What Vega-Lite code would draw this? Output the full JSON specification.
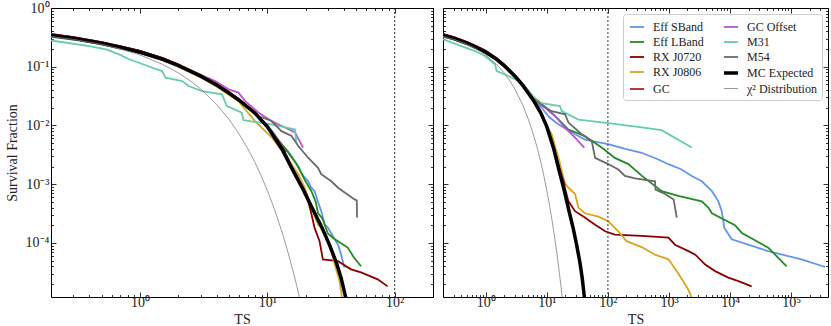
{
"$schema": "https://vega.github.io/schema/vega-lite/v6.json",
"padding": {"left": 4, "top": 0, "right": 4, "bottom": 0},
"config": {
  "font": "Liberation Serif",
  "view": {"stroke": "#000", "strokeWidth": 1},
  "axis": {"labelFont": "Liberation Serif", "labelFontSize": 14, "labelColor": "#222", "titleFont": "Liberation Serif", "titleFontSize": 14, "titleFontWeight": "normal", "titleColor": "#222", "tickColor": "#000", "tickWidth": 0.8, "grid": false, "labelOverlap": false, "labelFlush": false, "domain": false},
  "legend": {"labelFont": "Liberation Serif", "labelFontSize": 12, "labelColor": "#222", "titlePadding": 0},
  "concat": {"spacing": 8}
},
"datasets": {
 "C": [
  {"s":"MC Expected","t":0.2,"v":0.343},{"s":"MC Expected","t":0.3,"v":0.305},{"s":"MC Expected","t":0.5,"v":0.251},{"s":"MC Expected","t":0.7,"v":0.214},{"s":"MC Expected","t":1,"v":0.178},{"s":"MC Expected","t":1.5,"v":0.135},{"s":"MC Expected","t":2,"v":0.105},{"s":"MC Expected","t":3,"v":0.0692},{"s":"MC Expected","t":4,"v":0.049},{"s":"MC Expected","t":5,"v":0.0355},{"s":"MC Expected","t":6,"v":0.0269},{"s":"MC Expected","t":8,"v":0.0162},{"s":"MC Expected","t":10,"v":0.00955},{"s":"MC Expected","t":13,"v":0.00398},{"s":"MC Expected","t":16,"v":0.00166},{"s":"MC Expected","t":19,"v":0.000832},{"s":"MC Expected","t":23,"v":0.000355},{"s":"MC Expected","t":27,"v":0.000178},{"s":"MC Expected","t":31,"v":0.000089},{"s":"MC Expected","t":35,"v":0.000045},{"s":"MC Expected","t":38,"v":0.000025},{"s":"MC Expected","t":42,"v":0.00001},
  {"s":"χ² Distribution","t":0.2,"v":0.327},{"s":"χ² Distribution","t":0.3,"v":0.292},{"s":"χ² Distribution","t":0.5,"v":0.24},{"s":"χ² Distribution","t":0.7,"v":0.201},{"s":"χ² Distribution","t":1,"v":0.159},{"s":"χ² Distribution","t":1.5,"v":0.11},{"s":"χ² Distribution","t":2,"v":0.0787},{"s":"χ² Distribution","t":2.5,"v":0.0569},{"s":"χ² Distribution","t":3,"v":0.0416},{"s":"χ² Distribution","t":4,"v":0.0228},{"s":"χ² Distribution","t":5,"v":0.0127},{"s":"χ² Distribution","t":6,"v":0.00715},{"s":"χ² Distribution","t":7,"v":0.00408},{"s":"χ² Distribution","t":8,"v":0.00234},{"s":"χ² Distribution","t":9,"v":0.00135},{"s":"χ² Distribution","t":10,"v":0.000783},{"s":"χ² Distribution","t":11,"v":0.000456},{"s":"χ² Distribution","t":12,"v":0.000266},{"s":"χ² Distribution","t":13,"v":0.000156},{"s":"χ² Distribution","t":14,"v":0.0000915},{"s":"χ² Distribution","t":15,"v":0.0000538},{"s":"χ² Distribution","t":16,"v":0.0000317},{"s":"χ² Distribution","t":17,"v":0.0000187},{"s":"χ² Distribution","t":18,"v":0.000011}
 ],
 "L": [
  {"s":"Eff SBand","t":0.2,"v":0.327},{"s":"Eff SBand","t":0.3,"v":0.291},{"s":"Eff SBand","t":0.5,"v":0.24},{"s":"Eff SBand","t":0.7,"v":0.204},{"s":"Eff SBand","t":1,"v":0.17},{"s":"Eff SBand","t":1.5,"v":0.129},{"s":"Eff SBand","t":2,"v":0.1},{"s":"Eff SBand","t":3,"v":0.0661},{"s":"Eff SBand","t":4,"v":0.0468},{"s":"Eff SBand","t":5,"v":0.0345},{"s":"Eff SBand","t":6,"v":0.0265},{"s":"Eff SBand","t":7,"v":0.021},{"s":"Eff SBand","t":8,"v":0.0165},{"s":"Eff SBand","t":9,"v":0.0126},{"s":"Eff SBand","t":11,"v":0.0079},{"s":"Eff SBand","t":13,"v":0.0047},{"s":"Eff SBand","t":16.4,"v":0.00245},{"s":"Eff SBand","t":19,"v":0.00141},{"s":"Eff SBand","t":20.9,"v":0.00112},{"s":"Eff SBand","t":22,"v":0.00089},{"s":"Eff SBand","t":23.5,"v":0.00076},{"s":"Eff SBand","t":25,"v":0.0005},{"s":"Eff SBand","t":26.5,"v":0.000347},{"s":"Eff SBand","t":28.3,"v":0.000204},{"s":"Eff SBand","t":29.9,"v":0.000182},{"s":"Eff SBand","t":33,"v":0.000126},{"s":"Eff SBand","t":35.9,"v":0.0000933},{"s":"Eff SBand","t":38,"v":0.000063},{"s":"Eff SBand","t":40.3,"v":0.000038},
  {"s":"Eff LBand","t":0.2,"v":0.335},{"s":"Eff LBand","t":0.3,"v":0.298},{"s":"Eff LBand","t":0.5,"v":0.246},{"s":"Eff LBand","t":0.7,"v":0.209},{"s":"Eff LBand","t":1,"v":0.174},{"s":"Eff LBand","t":1.5,"v":0.132},{"s":"Eff LBand","t":2,"v":0.103},{"s":"Eff LBand","t":3,"v":0.068},{"s":"Eff LBand","t":4,"v":0.048},{"s":"Eff LBand","t":5,"v":0.035},{"s":"Eff LBand","t":6,"v":0.027},{"s":"Eff LBand","t":7,"v":0.0212},{"s":"Eff LBand","t":8,"v":0.0162},{"s":"Eff LBand","t":9,"v":0.0117},{"s":"Eff LBand","t":10,"v":0.0093},{"s":"Eff LBand","t":12.2,"v":0.0056},{"s":"Eff LBand","t":14.6,"v":0.00355},{"s":"Eff LBand","t":17.5,"v":0.002},{"s":"Eff LBand","t":19.7,"v":0.00117},{"s":"Eff LBand","t":22.2,"v":0.00076},{"s":"Eff LBand","t":24,"v":0.0005},{"s":"Eff LBand","t":25,"v":0.00032},{"s":"Eff LBand","t":27,"v":0.000263},{"s":"Eff LBand","t":29.9,"v":0.000145},{"s":"Eff LBand","t":33,"v":0.00012},{"s":"Eff LBand","t":42.8,"v":0.0000832},{"s":"Eff LBand","t":48,"v":0.000056},{"s":"Eff LBand","t":54.4,"v":0.00004},
  {"s":"RX J0720","t":0.2,"v":0.359},{"s":"RX J0720","t":0.3,"v":0.319},{"s":"RX J0720","t":0.5,"v":0.263},{"s":"RX J0720","t":0.7,"v":0.224},{"s":"RX J0720","t":1,"v":0.186},{"s":"RX J0720","t":1.5,"v":0.141},{"s":"RX J0720","t":2,"v":0.11},{"s":"RX J0720","t":3,"v":0.0724},{"s":"RX J0720","t":4,"v":0.0513},{"s":"RX J0720","t":5,"v":0.0372},{"s":"RX J0720","t":6,"v":0.0275},{"s":"RX J0720","t":8,"v":0.0165},{"s":"RX J0720","t":10,"v":0.0092},{"s":"RX J0720","t":14,"v":0.0032},{"s":"RX J0720","t":18,"v":0.00112},{"s":"RX J0720","t":21,"v":0.0005},{"s":"RX J0720","t":22.2,"v":0.00031},{"s":"RX J0720","t":23.5,"v":0.00018},{"s":"RX J0720","t":25.7,"v":0.000107},{"s":"RX J0720","t":27.3,"v":0.0000525},{"s":"RX J0720","t":35.9,"v":0.000049},{"s":"RX J0720","t":45.4,"v":0.0000355},{"s":"RX J0720","t":54.4,"v":0.0000316},{"s":"RX J0720","t":73.6,"v":0.000024},{"s":"RX J0720","t":88,"v":0.0000182},
  {"s":"RX J0806","t":0.2,"v":0.335},{"s":"RX J0806","t":0.3,"v":0.298},{"s":"RX J0806","t":0.5,"v":0.245},{"s":"RX J0806","t":0.7,"v":0.207},{"s":"RX J0806","t":1,"v":0.172},{"s":"RX J0806","t":1.5,"v":0.13},{"s":"RX J0806","t":2,"v":0.1},{"s":"RX J0806","t":3,"v":0.066},{"s":"RX J0806","t":4,"v":0.046},{"s":"RX J0806","t":5,"v":0.033},{"s":"RX J0806","t":5.93,"v":0.026},{"s":"RX J0806","t":8,"v":0.0119},{"s":"RX J0806","t":10.8,"v":0.0063},{"s":"RX J0806","t":13.7,"v":0.00324},{"s":"RX J0806","t":17.5,"v":0.00148},{"s":"RX J0806","t":19.7,"v":0.00087},{"s":"RX J0806","t":22.2,"v":0.0004},{"s":"RX J0806","t":25,"v":0.000204},{"s":"RX J0806","t":26,"v":0.00019},{"s":"RX J0806","t":27.3,"v":0.00017},{"s":"RX J0806","t":29,"v":0.000123},{"s":"RX J0806","t":31.8,"v":0.0000724},{"s":"RX J0806","t":33.8,"v":0.0000427},{"s":"RX J0806","t":36.9,"v":0.0000224},{"s":"RX J0806","t":39,"v":0.00001},
  {"s":"GC","t":0.2,"v":0.362},{"s":"GC","t":0.3,"v":0.32},{"s":"GC","t":0.5,"v":0.262},{"s":"GC","t":0.7,"v":0.223},{"s":"GC","t":1,"v":0.186},{"s":"GC","t":1.5,"v":0.14},{"s":"GC","t":2,"v":0.109},{"s":"GC","t":3,"v":0.072},{"s":"GC","t":4,"v":0.051},{"s":"GC","t":5,"v":0.037},{"s":"GC","t":6,"v":0.028},{"s":"GC","t":8,"v":0.0165},{"s":"GC","t":10,"v":0.0098},{"s":"GC","t":12,"v":0.0058},{"s":"GC","t":14,"v":0.0035},
  {"s":"GC Offset","t":0.2,"v":0.33},{"s":"GC Offset","t":0.3,"v":0.295},{"s":"GC Offset","t":0.5,"v":0.245},{"s":"GC Offset","t":0.7,"v":0.21},{"s":"GC Offset","t":1,"v":0.176},{"s":"GC Offset","t":1.5,"v":0.136},{"s":"GC Offset","t":2,"v":0.107},{"s":"GC Offset","t":3,"v":0.0725},{"s":"GC Offset","t":3.9,"v":0.057},{"s":"GC Offset","t":4.96,"v":0.0412},{"s":"GC Offset","t":5.93,"v":0.0363},{"s":"GC Offset","t":6.7,"v":0.026},{"s":"GC Offset","t":8.5,"v":0.0166},{"s":"GC Offset","t":10.8,"v":0.0119},{"s":"GC Offset","t":13,"v":0.0098},{"s":"GC Offset","t":16.5,"v":0.0076},{"s":"GC Offset","t":19.1,"v":0.0042},
  {"s":"M31","t":0.2,"v":0.28},{"s":"M31","t":0.4,"v":0.225},{"s":"M31","t":0.54,"v":0.198},{"s":"M31","t":0.686,"v":0.162},{"s":"M31","t":0.82,"v":0.134},{"s":"M31","t":0.98,"v":0.117},{"s":"M31","t":1.25,"v":0.096},{"s":"M31","t":1.49,"v":0.0845},{"s":"M31","t":1.59,"v":0.065},{"s":"M31","t":2.14,"v":0.057},{"s":"M31","t":2.41,"v":0.047},{"s":"M31","t":3.06,"v":0.0385},{"s":"M31","t":4.4,"v":0.034},{"s":"M31","t":4.81,"v":0.0214},{"s":"M31","t":6.3,"v":0.0165},{"s":"M31","t":6.5,"v":0.0123},{"s":"M31","t":10.8,"v":0.0104},{"s":"M31","t":16.5,"v":0.0085},{"s":"M31","t":16.9,"v":0.0051},
  {"s":"M54","t":0.2,"v":0.327},{"s":"M54","t":0.3,"v":0.291},{"s":"M54","t":0.5,"v":0.24},{"s":"M54","t":0.7,"v":0.204},{"s":"M54","t":1,"v":0.17},{"s":"M54","t":1.5,"v":0.13},{"s":"M54","t":2,"v":0.102},{"s":"M54","t":3,"v":0.068},{"s":"M54","t":4,"v":0.049},{"s":"M54","t":5,"v":0.0365},{"s":"M54","t":6.7,"v":0.0229},{"s":"M54","t":8.5,"v":0.0145},{"s":"M54","t":10.8,"v":0.0119},{"s":"M54","t":12.9,"v":0.008},{"s":"M54","t":15.5,"v":0.0066},{"s":"M54","t":17.5,"v":0.00447},{"s":"M54","t":20.9,"v":0.00282},{"s":"M54","t":25,"v":0.0019},{"s":"M54","t":26.5,"v":0.00148},{"s":"M54","t":31.8,"v":0.00112},{"s":"M54","t":35.9,"v":0.00087},{"s":"M54","t":48.4,"v":0.00055},{"s":"M54","t":50.4,"v":0.00053},{"s":"M54","t":50.6,"v":0.00027}
 ],
 "R": [
  {"s":"Eff SBand","t":0.2,"v":0.327},{"s":"Eff SBand","t":0.3,"v":0.291},{"s":"Eff SBand","t":0.5,"v":0.24},{"s":"Eff SBand","t":0.7,"v":0.204},{"s":"Eff SBand","t":1,"v":0.17},{"s":"Eff SBand","t":1.5,"v":0.129},{"s":"Eff SBand","t":2,"v":0.1},{"s":"Eff SBand","t":3,"v":0.0661},{"s":"Eff SBand","t":4,"v":0.0468},{"s":"Eff SBand","t":5,"v":0.0339},{"s":"Eff SBand","t":6.4,"v":0.025},{"s":"Eff SBand","t":8.26,"v":0.02},{"s":"Eff SBand","t":11,"v":0.0138},{"s":"Eff SBand","t":15.4,"v":0.0105},{"s":"Eff SBand","t":29,"v":0.0071},{"s":"Eff SBand","t":42,"v":0.00575},{"s":"Eff SBand","t":101,"v":0.0048},{"s":"Eff SBand","t":168,"v":0.00417},{"s":"Eff SBand","t":216,"v":0.00389},{"s":"Eff SBand","t":357,"v":0.00343},{"s":"Eff SBand","t":670,"v":0.00263},{"s":"Eff SBand","t":980,"v":0.00219},{"s":"Eff SBand","t":1610,"v":0.00178},{"s":"Eff SBand","t":2350,"v":0.00138},{"s":"Eff SBand","t":3440,"v":0.00112},{"s":"Eff SBand","t":5040,"v":0.00076},{"s":"Eff SBand","t":6420,"v":0.00051},{"s":"Eff SBand","t":7280,"v":0.00035},{"s":"Eff SBand","t":8050,"v":0.00018},{"s":"Eff SBand","t":10600,"v":0.000115},{"s":"Eff SBand","t":42000,"v":0.0000724},{"s":"Eff SBand","t":147000,"v":0.0000525},{"s":"Eff SBand","t":360000,"v":0.0000389},
  {"s":"Eff LBand","t":0.2,"v":0.335},{"s":"Eff LBand","t":0.3,"v":0.298},{"s":"Eff LBand","t":0.5,"v":0.246},{"s":"Eff LBand","t":0.7,"v":0.209},{"s":"Eff LBand","t":1,"v":0.174},{"s":"Eff LBand","t":1.5,"v":0.132},{"s":"Eff LBand","t":2,"v":0.103},{"s":"Eff LBand","t":3,"v":0.068},{"s":"Eff LBand","t":4,"v":0.048},{"s":"Eff LBand","t":5,"v":0.035},{"s":"Eff LBand","t":7.3,"v":0.026},{"s":"Eff LBand","t":13.6,"v":0.0145},{"s":"Eff LBand","t":22.6,"v":0.0085},{"s":"Eff LBand","t":42,"v":0.0066},{"s":"Eff LBand","t":79,"v":0.0042},{"s":"Eff LBand","t":130,"v":0.0028},{"s":"Eff LBand","t":216,"v":0.0022},{"s":"Eff LBand","t":357,"v":0.0014},{"s":"Eff LBand","t":757,"v":0.00076},{"s":"Eff LBand","t":1420,"v":0.00063},{"s":"Eff LBand","t":3440,"v":0.00051},{"s":"Eff LBand","t":4400,"v":0.0004},{"s":"Eff LBand","t":5040,"v":0.00032},{"s":"Eff LBand","t":12000,"v":0.0002},{"s":"Eff LBand","t":15600,"v":0.000148},{"s":"Eff LBand","t":42000,"v":0.000083},{"s":"Eff LBand","t":84000,"v":0.00004},
  {"s":"RX J0720","t":0.2,"v":0.359},{"s":"RX J0720","t":0.3,"v":0.319},{"s":"RX J0720","t":0.5,"v":0.263},{"s":"RX J0720","t":0.7,"v":0.224},{"s":"RX J0720","t":1,"v":0.186},{"s":"RX J0720","t":1.5,"v":0.141},{"s":"RX J0720","t":2,"v":0.11},{"s":"RX J0720","t":3,"v":0.0724},{"s":"RX J0720","t":4,"v":0.0513},{"s":"RX J0720","t":5,"v":0.0372},{"s":"RX J0720","t":6,"v":0.0275},{"s":"RX J0720","t":8,"v":0.0165},{"s":"RX J0720","t":10,"v":0.0095},{"s":"RX J0720","t":13,"v":0.0045},{"s":"RX J0720","t":17.5,"v":0.0014},{"s":"RX J0720","t":22.6,"v":0.00051},{"s":"RX J0720","t":29,"v":0.000347},{"s":"RX J0720","t":42,"v":0.00027},{"s":"RX J0720","t":61.7,"v":0.000204},{"s":"RX J0720","t":90,"v":0.000158},{"s":"RX J0720","t":130,"v":0.000138},{"s":"RX J0720","t":357,"v":0.000132},{"s":"RX J0720","t":980,"v":0.000123},{"s":"RX J0720","t":1250,"v":0.0000933},{"s":"RX J0720","t":2080,"v":0.0000724},{"s":"RX J0720","t":2690,"v":0.000063},{"s":"RX J0720","t":3910,"v":0.0000427},{"s":"RX J0720","t":5680,"v":0.0000331},{"s":"RX J0720","t":9330,"v":0.0000257},{"s":"RX J0720","t":13700,"v":0.0000224},{"s":"RX J0720","t":22500,"v":0.0000182},
  {"s":"RX J0806","t":0.2,"v":0.335},{"s":"RX J0806","t":0.3,"v":0.298},{"s":"RX J0806","t":0.5,"v":0.245},{"s":"RX J0806","t":0.7,"v":0.207},{"s":"RX J0806","t":1,"v":0.172},{"s":"RX J0806","t":1.5,"v":0.13},{"s":"RX J0806","t":2,"v":0.1},{"s":"RX J0806","t":3,"v":0.066},{"s":"RX J0806","t":4,"v":0.046},{"s":"RX J0806","t":5,"v":0.034},{"s":"RX J0806","t":6,"v":0.026},{"s":"RX J0806","t":8,"v":0.0155},{"s":"RX J0806","t":10,"v":0.0098},{"s":"RX J0806","t":12,"v":0.0071},{"s":"RX J0806","t":16,"v":0.0025},{"s":"RX J0806","t":19.9,"v":0.001},{"s":"RX J0806","t":22.6,"v":0.00087},{"s":"RX J0806","t":29,"v":0.00068},{"s":"RX J0806","t":32.9,"v":0.0004},{"s":"RX J0806","t":42,"v":0.00032},{"s":"RX J0806","t":70,"v":0.00028},{"s":"RX J0806","t":101,"v":0.000234},{"s":"RX J0806","t":148,"v":0.000158},{"s":"RX J0806","t":202,"v":0.000107},{"s":"RX J0806","t":357,"v":0.000085},{"s":"RX J0806","t":590,"v":0.000063},{"s":"RX J0806","t":980,"v":0.0000525},{"s":"RX J0806","t":1340,"v":0.000033},{"s":"RX J0806","t":1700,"v":0.0000224},{"s":"RX J0806","t":2080,"v":0.0000158},{"s":"RX J0806","t":2500,"v":0.00001},
  {"s":"GC","t":0.2,"v":0.362},{"s":"GC","t":0.3,"v":0.32},{"s":"GC","t":0.5,"v":0.262},{"s":"GC","t":0.7,"v":0.223},{"s":"GC","t":1,"v":0.186},{"s":"GC","t":1.5,"v":0.14},{"s":"GC","t":2,"v":0.109},{"s":"GC","t":3,"v":0.072},{"s":"GC","t":4,"v":0.051},{"s":"GC","t":5,"v":0.037},{"s":"GC","t":6,"v":0.028},{"s":"GC","t":8,"v":0.0165},{"s":"GC","t":10,"v":0.0097},{"s":"GC","t":13,"v":0.0042},{"s":"GC","t":16,"v":0.0019},{"s":"GC","t":20,"v":0.00095},
  {"s":"GC Offset","t":0.2,"v":0.33},{"s":"GC Offset","t":0.3,"v":0.295},{"s":"GC Offset","t":0.5,"v":0.245},{"s":"GC Offset","t":0.7,"v":0.21},{"s":"GC Offset","t":1,"v":0.176},{"s":"GC Offset","t":1.5,"v":0.136},{"s":"GC Offset","t":2,"v":0.107},{"s":"GC Offset","t":3,"v":0.0725},{"s":"GC Offset","t":3.43,"v":0.0575},{"s":"GC Offset","t":5,"v":0.039},{"s":"GC Offset","t":6.4,"v":0.026},{"s":"GC Offset","t":9.4,"v":0.02},{"s":"GC Offset","t":13.6,"v":0.0145},{"s":"GC Offset","t":19.9,"v":0.0091},{"s":"GC Offset","t":29,"v":0.0062},{"s":"GC Offset","t":41,"v":0.0042},
  {"s":"M31","t":0.2,"v":0.293},{"s":"M31","t":0.67,"v":0.185},{"s":"M31","t":0.97,"v":0.152},{"s":"M31","t":1.42,"v":0.11},{"s":"M31","t":1.51,"v":0.0845},{"s":"M31","t":2.35,"v":0.0695},{"s":"M31","t":3.88,"v":0.0537},{"s":"M31","t":7.3,"v":0.0245},{"s":"M31","t":16.4,"v":0.0214},{"s":"M31","t":17.5,"v":0.0176},{"s":"M31","t":32.9,"v":0.0126},{"s":"M31","t":101,"v":0.011},{"s":"M31","t":357,"v":0.0093},{"s":"M31","t":757,"v":0.0083},{"s":"M31","t":2350,"v":0.0042},
  {"s":"M54","t":0.2,"v":0.327},{"s":"M54","t":0.3,"v":0.291},{"s":"M54","t":0.5,"v":0.24},{"s":"M54","t":0.7,"v":0.204},{"s":"M54","t":1,"v":0.17},{"s":"M54","t":1.5,"v":0.13},{"s":"M54","t":2,"v":0.102},{"s":"M54","t":3,"v":0.068},{"s":"M54","t":4,"v":0.049},{"s":"M54","t":5,"v":0.035},{"s":"M54","t":7,"v":0.025},{"s":"M54","t":12,"v":0.0175},{"s":"M54","t":19.9,"v":0.0155},{"s":"M54","t":22.6,"v":0.0112},{"s":"M54","t":37.2,"v":0.0071},{"s":"M54","t":54.4,"v":0.0054},{"s":"M54","t":61.7,"v":0.0028},{"s":"M54","t":101,"v":0.0022},{"s":"M54","t":148,"v":0.00178},{"s":"M54","t":190,"v":0.00138},{"s":"M54","t":278,"v":0.00126},{"s":"M54","t":590,"v":0.00112},{"s":"M54","t":600,"v":0.00081},{"s":"M54","t":865,"v":0.00068},{"s":"M54","t":1190,"v":0.00055},{"s":"M54","t":1340,"v":0.00027}
 ]
},
"resolve": {"scale": {"color": "independent", "strokeWidth": "independent"}},
"hconcat": [
 {
  "width": 382, "height": 289,
  "resolve": {"axis": {"x": "independent", "y": "independent"}},
  "layer": [
   {
    "data": {"name": "L"},
    "mark": {"type": "line", "clip": true},
    "encoding": {
     "x": {"field": "t", "type": "quantitative", "scale": {"type": "log", "domain": [0.2, 200], "nice": false},
       "axis": {"orient": "bottom", "values": [0.2,0.3,0.4,0.5,0.6,0.7,0.8,0.9,1,2,3,4,5,6,7,8,9,10,20,30,40,50,60,70,80,90,100,200], "tickSize": {"condition": {"test": "abs(log(datum.value)/LN10 - round(log(datum.value)/LN10)) < 0.001", "value": -5}, "value": -2.5}, "labelExpr": "abs(log(datum.value)/LN10 - round(log(datum.value)/LN10)) < 0.001 ? '10' + replace(replace(replace(replace(replace(replace(replace('' + round(log(datum.value)/LN10), '-', '⁻'), '0', '⁰'), '1', '¹'), '2', '²'), '3', '³'), '4', '⁴'), '5', '⁵') : ''", "labelPadding": 3, "title": "TS", "titlePadding": 1}},
     "y": {"field": "v", "type": "quantitative", "scale": {"type": "log", "domain": [0.000012, 1], "nice": false},
       "axis": {"orient": "left", "values": [0.00002,0.00003,0.00004,0.00005,0.00006,0.00007,0.00008,0.00009,0.0001,0.0002,0.0003,0.0004,0.0005,0.0006,0.0007,0.0008,0.0009,0.001,0.002,0.003,0.004,0.005,0.006,0.007,0.008,0.009,0.01,0.02,0.03,0.04,0.05,0.06,0.07,0.08,0.09,0.1,0.2,0.3,0.4,0.5,0.6,0.7,0.8,0.9,1], "tickSize": {"condition": {"test": "abs(log(datum.value)/LN10 - round(log(datum.value)/LN10)) < 0.001", "value": -5}, "value": -2.5}, "labelExpr": "abs(log(datum.value)/LN10 - round(log(datum.value)/LN10)) < 0.001 ? '10' + replace(replace(replace(replace(replace(replace(replace('' + round(log(datum.value)/LN10), '-', '⁻'), '0', '⁰'), '1', '¹'), '2', '²'), '3', '³'), '4', '⁴'), '5', '⁵') : ''", "labelPadding": 7, "title": "Survival Fraction", "titlePadding": 6}},
     "color": {"field": "s", "type": "nominal", "scale": {"domain": ["Eff SBand","Eff LBand","RX J0720","RX J0806","GC","GC Offset","M31","M54","MC Expected","χ² Distribution"], "range": ["#6495ED","#228B22","#8B0000","#DAA520","#B22222","#BA55D3","#66CDAA","#696969","#000000","#808080"]}, "legend": null},
     "strokeWidth": {"field": "s", "type": "nominal", "scale": {"type": "ordinal", "domain": ["Eff SBand","Eff LBand","RX J0720","RX J0806","GC","GC Offset","M31","M54","MC Expected","χ² Distribution"], "range": [1.8,1.8,1.8,1.8,1.8,1.8,1.8,1.8,3.5,0.8]}, "legend": null}
    }
   },
   {
    "data": {"name": "C"},
    "mark": {"type": "line", "clip": true},
    "encoding": {
     "x": {"field": "t", "type": "quantitative", "scale": {"type": "log", "domain": [0.2, 200], "nice": false},
       "axis": {"orient": "top", "values": [0.2,0.3,0.4,0.5,0.6,0.7,0.8,0.9,1,2,3,4,5,6,7,8,9,10,20,30,40,50,60,70,80,90,100,200], "tickSize": {"condition": {"test": "abs(log(datum.value)/LN10 - round(log(datum.value)/LN10)) < 0.001", "value": -5}, "value": -2.5}, "labels": false, "title": null}},
     "y": {"field": "v", "type": "quantitative", "scale": {"type": "log", "domain": [0.000012, 1], "nice": false},
       "axis": {"orient": "right", "values": [0.00002,0.00003,0.00004,0.00005,0.00006,0.00007,0.00008,0.00009,0.0001,0.0002,0.0003,0.0004,0.0005,0.0006,0.0007,0.0008,0.0009,0.001,0.002,0.003,0.004,0.005,0.006,0.007,0.008,0.009,0.01,0.02,0.03,0.04,0.05,0.06,0.07,0.08,0.09,0.1,0.2,0.3,0.4,0.5,0.6,0.7,0.8,0.9,1], "tickSize": {"condition": {"test": "abs(log(datum.value)/LN10 - round(log(datum.value)/LN10)) < 0.001", "value": -5}, "value": -2.5}, "labels": false, "title": null}},
     "color": {"field": "s", "type": "nominal", "scale": {"domain": ["Eff SBand","Eff LBand","RX J0720","RX J0806","GC","GC Offset","M31","M54","MC Expected","χ² Distribution"], "range": ["#6495ED","#228B22","#8B0000","#DAA520","#B22222","#BA55D3","#66CDAA","#696969","#000000","#808080"]}, "legend": null},
     "strokeWidth": {"field": "s", "type": "nominal", "scale": {"type": "ordinal", "domain": ["Eff SBand","Eff LBand","RX J0720","RX J0806","GC","GC Offset","M31","M54","MC Expected","χ² Distribution"], "range": [1.8,1.8,1.8,1.8,1.8,1.8,1.8,1.8,3.5,0.8]}, "legend": null}
    }
   },
   {
    "data": {"values": [{"t": 100}]},
    "mark": {"type": "rule", "strokeDash": [2, 2], "color": "#333", "strokeWidth": 1},
    "encoding": {"x": {"field": "t", "type": "quantitative", "scale": {"type": "log", "domain": [0.2, 200], "nice": false}, "axis": null}}
   }
  ]
 },
 {
  "width": 385, "height": 289,
  "resolve": {"axis": {"x": "independent", "y": "independent"}},
  "layer": [
   {
    "data": {"name": "R"},
    "mark": {"type": "line", "clip": true},
    "encoding": {
     "x": {"field": "t", "type": "quantitative", "scale": {"type": "log", "domain": [0.2, 400000], "nice": false},
       "axis": {"orient": "bottom", "values": [0.2,0.3,0.4,0.5,0.6,0.7,0.8,0.9,1,2,3,4,5,6,7,8,9,10,20,30,40,50,60,70,80,90,100,200,300,400,500,600,700,800,900,1000,2000,3000,4000,5000,6000,7000,8000,9000,10000,20000,30000,40000,50000,60000,70000,80000,90000,100000,200000,300000,400000], "tickSize": {"condition": {"test": "abs(log(datum.value)/LN10 - round(log(datum.value)/LN10)) < 0.001", "value": -5}, "value": -2.5}, "labelExpr": "abs(log(datum.value)/LN10 - round(log(datum.value)/LN10)) < 0.001 ? '10' + replace(replace(replace(replace(replace(replace(replace('' + round(log(datum.value)/LN10), '-', '⁻'), '0', '⁰'), '1', '¹'), '2', '²'), '3', '³'), '4', '⁴'), '5', '⁵') : ''", "labelPadding": 3, "title": "TS", "titlePadding": 1}},
     "y": {"field": "v", "type": "quantitative", "scale": {"type": "log", "domain": [0.000012, 1], "nice": false},
       "axis": {"orient": "left", "values": [0.00002,0.00003,0.00004,0.00005,0.00006,0.00007,0.00008,0.00009,0.0001,0.0002,0.0003,0.0004,0.0005,0.0006,0.0007,0.0008,0.0009,0.001,0.002,0.003,0.004,0.005,0.006,0.007,0.008,0.009,0.01,0.02,0.03,0.04,0.05,0.06,0.07,0.08,0.09,0.1,0.2,0.3,0.4,0.5,0.6,0.7,0.8,0.9,1], "tickSize": {"condition": {"test": "abs(log(datum.value)/LN10 - round(log(datum.value)/LN10)) < 0.001", "value": -5}, "value": -2.5}, "labels": false, "title": null}},
     "color": {"field": "s", "type": "nominal", "scale": {"domain": ["Eff SBand","Eff LBand","RX J0720","RX J0806","GC","GC Offset","M31","M54","MC Expected","χ² Distribution"], "range": ["#6495ED","#228B22","#8B0000","#DAA520","#B22222","#BA55D3","#66CDAA","#696969","#000000","#808080"]},
       "legend": {"orient": "top-right", "title": null, "columns": 2, "symbolType": "stroke", "symbolSize": 200, "strokeColor": "#cccccc", "fillColor": "white", "padding": 5, "cornerRadius": 3, "offset": 6, "rowPadding": 1, "columnPadding": 12, "labelOffset": 7, "labelLimit": 200, "labelFont": "Liberation Serif", "labelFontSize": 12, "labelColor": "#222"}},
     "strokeWidth": {"field": "s", "type": "nominal", "scale": {"type": "ordinal", "domain": ["Eff SBand","Eff LBand","RX J0720","RX J0806","GC","GC Offset","M31","M54","MC Expected","χ² Distribution"], "range": [1.8,1.8,1.8,1.8,1.8,1.8,1.8,1.8,3.5,0.8]},
       "legend": {"orient": "top-right", "title": null, "columns": 2, "symbolType": "stroke", "symbolSize": 200, "strokeColor": "#cccccc", "fillColor": "white", "padding": 5, "cornerRadius": 3, "offset": 6, "rowPadding": 1, "columnPadding": 12, "labelOffset": 7, "labelLimit": 200, "labelFont": "Liberation Serif", "labelFontSize": 12, "labelColor": "#222"}}
    }
   },
   {
    "data": {"name": "C"},
    "mark": {"type": "line", "clip": true},
    "encoding": {
     "x": {"field": "t", "type": "quantitative", "scale": {"type": "log", "domain": [0.2, 400000], "nice": false},
       "axis": {"orient": "top", "values": [0.2,0.3,0.4,0.5,0.6,0.7,0.8,0.9,1,2,3,4,5,6,7,8,9,10,20,30,40,50,60,70,80,90,100,200,300,400,500,600,700,800,900,1000,2000,3000,4000,5000,6000,7000,8000,9000,10000,20000,30000,40000,50000,60000,70000,80000,90000,100000,200000,300000,400000], "tickSize": {"condition": {"test": "abs(log(datum.value)/LN10 - round(log(datum.value)/LN10)) < 0.001", "value": -5}, "value": -2.5}, "labels": false, "title": null}},
     "y": {"field": "v", "type": "quantitative", "scale": {"type": "log", "domain": [0.000012, 1], "nice": false},
       "axis": {"orient": "right", "values": [0.00002,0.00003,0.00004,0.00005,0.00006,0.00007,0.00008,0.00009,0.0001,0.0002,0.0003,0.0004,0.0005,0.0006,0.0007,0.0008,0.0009,0.001,0.002,0.003,0.004,0.005,0.006,0.007,0.008,0.009,0.01,0.02,0.03,0.04,0.05,0.06,0.07,0.08,0.09,0.1,0.2,0.3,0.4,0.5,0.6,0.7,0.8,0.9,1], "tickSize": {"condition": {"test": "abs(log(datum.value)/LN10 - round(log(datum.value)/LN10)) < 0.001", "value": -5}, "value": -2.5}, "labels": false, "title": null}},
     "color": {"field": "s", "type": "nominal", "scale": {"domain": ["Eff SBand","Eff LBand","RX J0720","RX J0806","GC","GC Offset","M31","M54","MC Expected","χ² Distribution"], "range": ["#6495ED","#228B22","#8B0000","#DAA520","#B22222","#BA55D3","#66CDAA","#696969","#000000","#808080"]},
       "legend": {"orient": "top-right", "title": null, "columns": 2, "symbolType": "stroke", "symbolSize": 200, "strokeColor": "#cccccc", "fillColor": "white", "padding": 5, "cornerRadius": 3, "offset": 6, "rowPadding": 1, "columnPadding": 12, "labelOffset": 7, "labelLimit": 200, "labelFont": "Liberation Serif", "labelFontSize": 12, "labelColor": "#222"}},
     "strokeWidth": {"field": "s", "type": "nominal", "scale": {"type": "ordinal", "domain": ["Eff SBand","Eff LBand","RX J0720","RX J0806","GC","GC Offset","M31","M54","MC Expected","χ² Distribution"], "range": [1.8,1.8,1.8,1.8,1.8,1.8,1.8,1.8,3.5,0.8]},
       "legend": {"orient": "top-right", "title": null, "columns": 2, "symbolType": "stroke", "symbolSize": 200, "strokeColor": "#cccccc", "fillColor": "white", "padding": 5, "cornerRadius": 3, "offset": 6, "rowPadding": 1, "columnPadding": 12, "labelOffset": 7, "labelLimit": 200, "labelFont": "Liberation Serif", "labelFontSize": 12, "labelColor": "#222"}}
    }
   },
   {
    "data": {"values": [{"t": 100}]},
    "mark": {"type": "rule", "strokeDash": [2, 2], "color": "#333", "strokeWidth": 1},
    "encoding": {"x": {"field": "t", "type": "quantitative", "scale": {"type": "log", "domain": [0.2, 400000], "nice": false}, "axis": null}}
   }
  ]
 }
]
}
